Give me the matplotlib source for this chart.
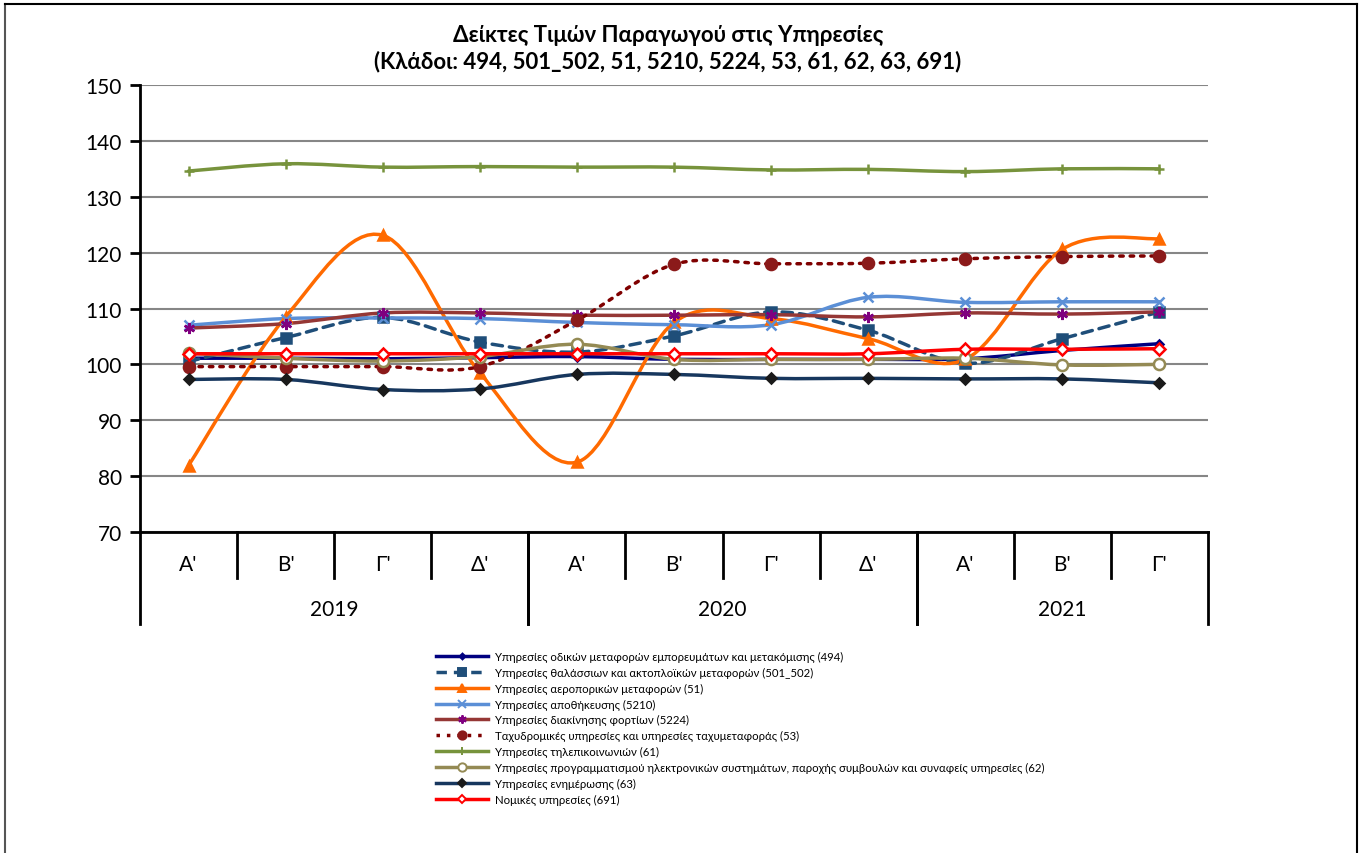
import matplotlib
matplotlib.use("Agg")
import matplotlib.pyplot as plt
from matplotlib.path import Path
from matplotlib.patches import PathPatch
from matplotlib.lines import Line2D
import matplotlib.transforms as mtransforms

plt.rcParams['font.family'] = ['Lato', 'DejaVu Sans']

quarters = ["Α'", "Β'", "Γ'", "Δ'", "Α'", "Β'", "Γ'", "Δ'", "Α'", "Β'", "Γ'"]
years = ["2019", "2020", "2021"]
year_spans = [(0, 4), (4, 8), (8, 11)]

s494 = [101.1, 101.1, 101.0, 101.2, 101.4, 100.9, 100.9, 100.9, 101.0, 102.5, 103.7]
s501_502 = [100.5, 104.8, 108.4, 104.0, 102.2, 105.1, 109.4, 106.1, 100.2, 104.6, 109.4]
s51 = [81.9, 108.5, 123.1, 98.5, 82.5, 107.5, 108.2, 104.6, 100.9, 120.6, 122.5]
s5210 = [107.0, 108.2, 108.3, 108.2, 107.5, 107.1, 107.1, 112.0, 111.1, 111.2, 111.2]
s5224 = [106.5, 107.3, 109.2, 109.2, 108.8, 108.8, 108.9, 108.5, 109.2, 109.0, 109.4]
s53 = [99.6, 99.6, 99.6, 99.6, 107.9, 117.9, 118.0, 118.1, 118.9, 119.3, 119.4]
s61 = [134.6, 135.9, 135.3, 135.4, 135.3, 135.3, 134.8, 134.9, 134.5, 135.0, 135.0]
s62 = [102.0, 101.1, 100.6, 101.4, 103.6, 100.9, 100.9, 100.9, 101.1, 99.9, 100.0]
s63 = [97.3, 97.3, 95.5, 95.6, 98.2, 98.2, 97.5, 97.5, 97.4, 97.4, 96.7]
s691 = [101.9, 101.9, 101.9, 101.9, 101.9, 101.9, 101.9, 101.9, 102.7, 102.7, 102.8]

labels = [
    "Υπηρεσίες οδικών μεταφορών εμπορευμάτων και μετακόμισης (494)",
    "Υπηρεσίες θαλάσσιων και ακτοπλοϊκών μεταφορών (501_502)",
    "Υπηρεσίες αεροπορικών μεταφορών (51)",
    "Υπηρεσίες αποθήκευσης (5210)",
    "Υπηρεσίες διακίνησης φορτίων (5224)",
    "Ταχυδρομικές υπηρεσίες και υπηρεσίες ταχυμεταφοράς (53)",
    "Υπηρεσίες τηλεπικοινωνιών (61)",
    "Υπηρεσίες προγραμματισμού ηλεκτρονικών συστημάτων, παροχής συμβουλών και συναφείς υπηρεσίες (62)",
    "Υπηρεσίες ενημέρωσης (63)",
    "Νομικές υπηρεσίες (691)",
]
series = [s494, s501_502, s51, s5210, s5224, s53, s61, s62, s63, s691]

# style: line colour, linestyle, marker, marker face, marker edge, marker size
styles = [
    ("#000080", "-", "D", "#000080", "#000080", 4),
    ("#1F4E79", (0, (3, 2)), "s", "#1F4E79", "#1F4E79", 7),
    ("#FF6A00", "-", "^", "#FF6A00", "#FF6A00", 7),
    ("#5B8FD6", "-", "x", "#5B8FD6", "#5B8FD6", 7),
    ("#953735", "-", (6, 2, 0), "#7F007F", "#7F007F", 8),
    ("#7F0000", (0, (1, 2)), "o", "#8B1A1A", "#8B1A1A", 8),
    ("#77933C", "-", "+", "#77933C", "#77933C", 7),
    ("#948A54", "-", "o", "white", "#948A54", 8),
    ("#17375E", "-", "D", "#1A1A1A", "#1A1A1A", 5),
    ("#FF0000", "-", "D", "white", "#FF0000", 6),
]


def smooth_path(xs, ys):
    # Excel-like smoothed line: Catmull-Rom as cubic Bezier segments
    pts = list(zip(xs, ys))
    verts = [pts[0]]
    codes = [Path.MOVETO]
    n = len(pts)
    for i in range(n - 1):
        p0 = pts[i - 1] if i > 0 else pts[i]
        p1 = pts[i]
        p2 = pts[i + 1]
        p3 = pts[i + 2] if i + 2 < n else pts[i + 1]
        c1 = (p1[0] + (p2[0] - p0[0]) / 6, p1[1] + (p2[1] - p0[1]) / 6)
        c2 = (p2[0] - (p3[0] - p1[0]) / 6, p2[1] - (p3[1] - p1[1]) / 6)
        verts += [c1, c2, p2]
        codes += [Path.CURVE4] * 3
    return Path(verts, codes)


fig = plt.figure(figsize=(13.64, 8.54), dpi=100)
ax = fig.add_axes([140 / 1364, 1 - 533 / 854, 1068 / 1364, 447 / 854])

x = [i + 0.5 for i in range(len(quarters))]
handles = []
for vals, st in zip(series, styles):
    col, ls, mk, mfc, mec, ms = st
    patch = PathPatch(smooth_path(x, vals), facecolor="none", edgecolor=col,
                      linewidth=2.5, linestyle=ls, capstyle="round")
    ax.add_patch(patch)
    ax.plot(x, vals, linestyle="none", marker=mk, markersize=ms,
            markerfacecolor=mfc, markeredgecolor=mec, markeredgewidth=1.8)
    handles.append(Line2D([], [], color=col, linewidth=2.5, linestyle=ls,
                          marker=mk, markersize=ms * 0.75, markerfacecolor=mfc,
                          markeredgecolor=mec, markeredgewidth=1.4))

ax.set_xlim(0, len(quarters))
ax.set_ylim(70, 150)
ax.set_yticks(range(70, 151, 10))
ax.yaxis.grid(True, color="#868686", linewidth=1.5)
ax.set_axisbelow(True)
ax.tick_params(axis="y", direction="out", length=7, width=2, labelsize=15, pad=6)
ax.set_xticks([])
for sp in ["top", "right"]:
    ax.spines[sp].set_visible(False)
ax.spines["left"].set_linewidth(2)
ax.spines["bottom"].set_linewidth(2)

# two-level category axis
trans = mtransforms.blended_transform_factory(ax.transData, ax.transAxes)
q_depth = -46 / 447
y_depth = -92 / 447
for i in range(1, len(quarters)):
    if i in (4, 8):
        continue
    ax.plot([i, i], [0, q_depth], color="black", linewidth=2, transform=trans, clip_on=False)
for a, b in year_spans:
    for xx in (a, b):
        ax.plot([xx, xx], [0, y_depth], color="black", linewidth=2, transform=trans, clip_on=False)
for xi, q in zip(x, quarters):
    ax.text(xi, -32 / 447, q, transform=trans, ha="center", va="center", fontsize=15)
for (a, b), yr in zip(year_spans, years):
    ax.text((a + b) / 2, -77 / 447, yr, transform=trans, ha="center", va="center", fontsize=15)

fig.text(668 / 1364, 1 - 35 / 854, "Δείκτες Τιμών Παραγωγού στις Υπηρεσίες",
         ha="center", va="center", fontsize=16, fontweight="bold")
fig.text(668 / 1364, 1 - 62 / 854, "(Κλάδοι: 494, 501_502, 51, 5210, 5224, 53, 61, 62, 63, 691)",
         ha="center", va="center", fontsize=16, fontweight="bold")

fig.legend(handles, labels, loc="upper left", bbox_to_anchor=(436 / 1364, 1 - 652 / 854),
           frameon=False, fontsize=8.2, handlelength=4.6, labelspacing=0.42,
           handletextpad=0.55, borderpad=0, borderaxespad=0)

# outer chart border
fig.add_artist(Line2D([5 / 1364, 5 / 1364], [0, 1 - 5 / 854], color="#555555", linewidth=1.5,
                      transform=fig.transFigure))
fig.add_artist(Line2D([5 / 1364, 1357 / 1364], [1 - 5 / 854, 1 - 5 / 854], color="black", linewidth=1.5,
                      transform=fig.transFigure))
fig.add_artist(Line2D([1357 / 1364, 1357 / 1364], [0, 1 - 5 / 854], color="black", linewidth=1.5,
                      transform=fig.transFigure))

fig.savefig("out.png", dpi=100)
